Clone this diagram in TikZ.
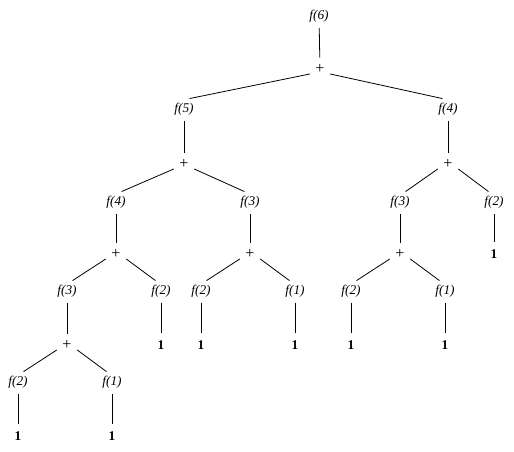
\documentclass[tikz,border=0pt]{standalone}
\usepackage{fontspec}
\setmainfont{Liberation Serif}

\newcommand{\ysc}[0]{-0.75pt}
\newcommand{\xsc}[0]{0.75pt}

\begin{document}
\begin{tikzpicture}[y=\ysc, x=\xsc, line width=0.6pt,
  call/.style={circle, inner sep=0pt, minimum size=16.5pt, font=\itshape},
  plus/.style={circle, inner sep=0pt, minimum size=16.5pt, font=\large},
  base/.style={circle, inner sep=0pt, minimum size=17pt, font=\bfseries}]

\useasboundingbox (0,0) rectangle (514,452);

\node[call] (f6) at (319,16){f(6)};
\node[plus] (p0) at (320,69){+};

\node[call] (f5) at (184,109){f(5)};
\node[call] (f4a) at (448,109){f(4)};
\node[plus] (p1) at (184,164){+};
\node[plus] (p2) at (448,164){+};

\node[call] (f4b) at (116,202){f(4)};
\node[call] (f3a) at (250,202){f(3)};
\node[call] (f3b) at (400,202){f(3)};
\node[call] (f2a) at (494,202){f(2)};
\node[plus] (p3) at (116,254){+};
\node[plus] (p4) at (250,254){+};
\node[plus] (p5) at (400,254){+};
\node[base] (o1) at (494,254){1};

\node[call] (f3c) at (67,291){f(3)};
\node[call] (f2b) at (161,291){f(2)};
\node[call] (f2c) at (201,291){f(2)};
\node[call] (f1a) at (295,291){f(1)};
\node[call] (f2d) at (351,291){f(2)};
\node[call] (f1b) at (445,291){f(1)};
\node[plus] (p6) at (67,345){+};
\node[base] (o2) at (161,345){1};
\node[base] (o3) at (201,345){1};
\node[base] (o4) at (295,345){1};
\node[base] (o5) at (351,345){1};
\node[base] (o6) at (445,345){1};

\node[call] (f2e) at (18,382){f(2)};
\node[call] (f1c) at (112,382){f(1)};
\node[base] (o7) at (18,436){1};
\node[base] (o8) at (112,436){1};

\draw (f6) -- (p0);
\draw (p0.206) -- (f5.62);
\draw (p0.334) -- (f4a.118);

\draw (f5) -- (p1);
\draw (f4a) -- (p2);
\draw (p1.206) -- (f4b.62);
\draw (p1.334) -- (f3a.118);
\draw (p2.206) -- (f3b.62);
\draw (p2.334) -- (f2a.118);

\draw (f4b) -- (p3);
\draw (f3a) -- (p4);
\draw (f3b) -- (p5);
\draw (f2a) -- (o1);
\draw (p3.206) -- (f3c.62);
\draw (p3.334) -- (f2b.118);
\draw (p4.206) -- (f2c.62);
\draw (p4.334) -- (f1a.118);
\draw (p5.206) -- (f2d.62);
\draw (p5.334) -- (f1b.118);

\draw (f3c) -- (p6);
\draw (f2b) -- (o2);
\draw (f2c) -- (o3);
\draw (f1a) -- (o4);
\draw (f2d) -- (o5);
\draw (f1b) -- (o6);
\draw (p6.206) -- (f2e.62);
\draw (p6.334) -- (f1c.118);

\draw (f2e) -- (o7);
\draw (f1c) -- (o8);

\end{tikzpicture}
\end{document}
